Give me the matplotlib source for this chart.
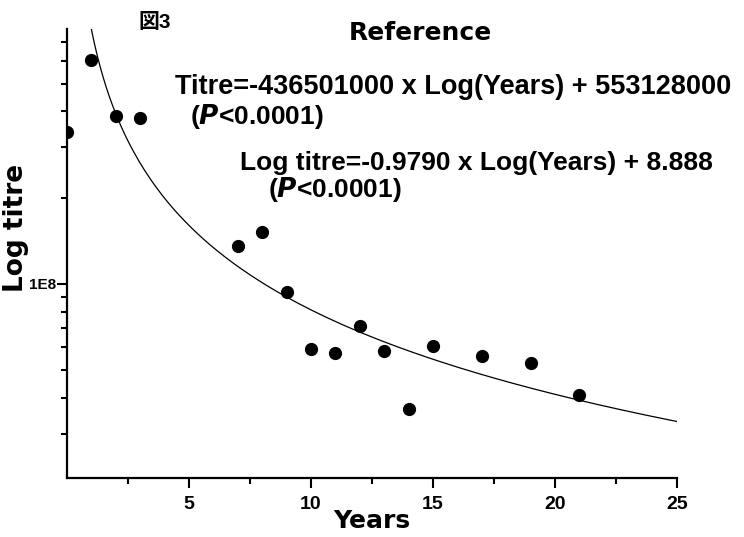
import numpy as np
import matplotlib
import matplotlib.pyplot as plt
from matplotlib.ticker import FixedLocator, FixedFormatter, LogLocator, NullFormatter

matplotlib.use("Agg")

plt.rcParams['font.family'] = ['Liberation Sans', 'Noto Sans CJK JP', 'DejaVu Sans']

# data
years = [0, 1, 2, 3, 7, 8, 9, 10, 11, 12, 13, 14, 15, 17, 19, 21]
titre = [3.4e8, 6.05e8, 3.85e8, 3.8e8, 1.35e8, 1.52e8, 9.4e7, 5.9e7, 5.75e7,
         7.1e7, 5.85e7, 3.65e7, 6.05e7, 5.6e7, 5.3e7, 4.1e7]

# fitted line printed on the chart: log titre = slope * log(years) + intercept
fit_slope = -0.9790
fit_intercept = 8.888
fit_years = np.linspace(1, 25, 200)

x_major = [5, 10, 15, 20, 25]
x_labels = ["5", "10", "15", "20", "25"]
x_minor = [2.5, 7.5, 12.5, 17.5, 22.5]

fig = plt.figure(figsize=(7.44, 5.37), dpi=100)
ax = fig.add_axes([67 / 744, 1 - 478 / 537, 610 / 744, 449 / 537])

ax.plot(fit_years, 10 ** (fit_slope * np.log10(fit_years) + fit_intercept),
        color="black", lw=0.9)
ax.plot(years, titre, "o", color="black", ms=8.5, clip_on=True)

ax.set_yscale("log")
ax.set_xlim(0, 25)
ax.set_ylim(2.1e7, 7.75e8)

for side in ["top", "right"]:
    ax.spines[side].set_visible(False)
for side in ["left", "bottom"]:
    ax.spines[side].set_linewidth(1.6)

ax.xaxis.set_major_locator(FixedLocator(x_major))
ax.xaxis.set_major_formatter(FixedFormatter(x_labels))
ax.xaxis.set_minor_locator(FixedLocator(x_minor))

ax.yaxis.set_major_locator(FixedLocator([1e8]))
ax.yaxis.set_major_formatter(FixedFormatter(["1E8"]))
ax.yaxis.set_minor_locator(LogLocator(base=10, subs=np.arange(2, 10)))
ax.yaxis.set_minor_formatter(NullFormatter())

ax.tick_params(which="major", direction="out", length=7, width=1.5)
ax.tick_params(which="minor", direction="out", length=4.5, width=1.5)
ax.tick_params(axis="x", labelsize=14, pad=6)
ax.tick_params(axis="y", labelsize=11, pad=1)
for lab in ax.get_xticklabels() + ax.get_yticklabels():
    lab.set_fontweight("bold")

# axis titles
fig.text(372 / 744, 1 - 521 / 537, "Years", ha="center", va="center",
         fontsize=18, fontweight="bold", family="DejaVu Sans")
fig.text(16 / 744, 1 - 228 / 537, "Log titre", ha="center", va="center",
         rotation=90, fontsize=19, fontweight="bold", family="DejaVu Sans")

fig.text(155 / 744, 1 - 22 / 537, "図3", ha="center", va="center",
         fontsize=15, fontweight="bold")
fig.text(420 / 744, 1 - 33 / 537, "Reference", ha="center", va="center",
         fontsize=18, fontweight="bold", family="DejaVu Sans")

fig.text(175 / 744, 1 - 87 / 537, "Titre=-436501000 x Log(Years) + 553128000",
         ha="left", va="center", fontsize=19.5, fontweight="bold")
fig.text(190 / 744, 1 - 117 / 537, r"($\mathbfit{P}$<0.0001)",
         ha="left", va="center", fontsize=19, fontweight="bold")
fig.text(240 / 744, 1 - 163 / 537, "Log titre=-0.9790 x Log(Years) + 8.888",
         ha="left", va="center", fontsize=19, fontweight="bold")
fig.text(268 / 744, 1 - 190 / 537, r"($\mathbfit{P}$<0.0001)",
         ha="left", va="center", fontsize=19, fontweight="bold")

plt.savefig("out.png", dpi=100)
